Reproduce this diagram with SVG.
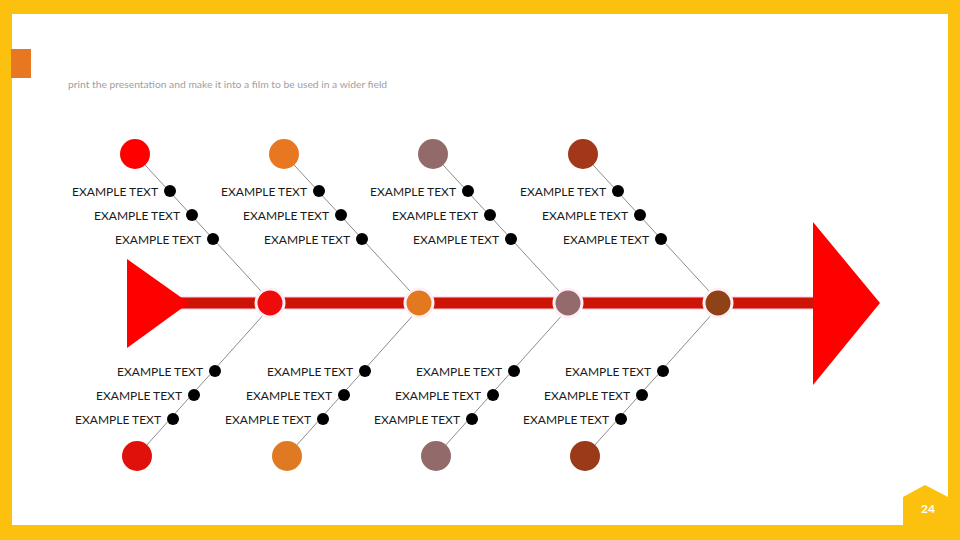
<svg xmlns="http://www.w3.org/2000/svg" width="960" height="540" viewBox="0 0 960 540">
<defs>
<style>
.lbl{font-family:Lato,"Liberation Sans",sans-serif;font-size:12px;fill:#1a1a1a;text-anchor:end;dominant-baseline:central}
.bone{stroke:#8c8c8c;stroke-width:1;fill:none}
.dot{fill:#000}
.node{stroke:#fff0f8;stroke-width:3}
</style>
</defs>
<rect x="0" y="0" width="960" height="540" fill="#FBC10E"/>
<rect x="12" y="14" width="936" height="511" fill="#ffffff"/>
<polygon points="903,497 925,485 948,497 948,525 903,525" fill="#FBC10E"/>
<text x="928" y="513" font-family="Lato,'Liberation Sans',sans-serif" font-size="12" font-weight="bold" fill="#ffffff" text-anchor="middle">24</text>
<rect x="11" y="49" width="20" height="29" fill="#E87722"/>
<text x="68" y="88" font-family="Lato,'Liberation Sans',sans-serif" font-size="10.3" fill="#a0a0a0">print the presentation and make it into a film to be used in a wider field</text>

<g id="connectors">
<line class="bone" x1="135" y1="154" x2="272" y2="303"/>
<line class="bone" x1="284" y1="154" x2="421" y2="303"/>
<line class="bone" x1="433" y1="154" x2="570" y2="303"/>
<line class="bone" x1="583" y1="154" x2="720" y2="303"/>
<line class="bone" x1="274" y1="303" x2="137" y2="456"/>
<line class="bone" x1="424" y1="303" x2="287" y2="456"/>
<line class="bone" x1="573" y1="303" x2="436" y2="456"/>
<line class="bone" x1="722" y1="303" x2="585" y2="456"/>
</g>

<g id="spine">
<rect x="180" y="297" width="640" height="12" fill="#CC1505" stroke="#ffc8e8" stroke-width="1"/>
<polygon points="127,259 127,348 189,303" fill="#FF0000"/>
<polygon points="813,222 813,385 880,303" fill="#FF0000"/>
</g>

<g id="spine-nodes">
<circle class="node" cx="270" cy="303" r="14" fill="#F00A0A"/>
<circle class="node" cx="419" cy="303" r="14" fill="#E2791F"/>
<circle class="node" cx="568" cy="303" r="14" fill="#946B6B"/>
<circle class="node" cx="718" cy="303" r="14" fill="#8E4216"/>
</g>

<g id="top-heads">
<circle cx="135" cy="154" r="15" fill="#FF0000"/>
<circle cx="284" cy="154" r="15" fill="#E87722"/>
<circle cx="433" cy="154" r="15" fill="#936A6A"/>
<circle cx="583" cy="154" r="15" fill="#A2371A"/>
</g>

<g id="bottom-heads">
<circle cx="137" cy="456" r="15" fill="#E0100A"/>
<circle cx="287" cy="456" r="15" fill="#E07A22"/>
<circle cx="436" cy="456" r="15" fill="#936A6A"/>
<circle cx="585" cy="456" r="15" fill="#9A3A18"/>
</g>

<g id="top-col1">
<circle class="dot" cx="170" cy="191" r="6"/><text class="lbl" x="158" y="191">EXAMPLE TEXT</text>
<circle class="dot" cx="192" cy="215" r="6"/><text class="lbl" x="180" y="215">EXAMPLE TEXT</text>
<circle class="dot" cx="213" cy="239" r="6"/><text class="lbl" x="201" y="239">EXAMPLE TEXT</text>
</g>
<g id="top-col2">
<circle class="dot" cx="319" cy="191" r="6"/><text class="lbl" x="307" y="191">EXAMPLE TEXT</text>
<circle class="dot" cx="341" cy="215" r="6"/><text class="lbl" x="329" y="215">EXAMPLE TEXT</text>
<circle class="dot" cx="362" cy="239" r="6"/><text class="lbl" x="350" y="239">EXAMPLE TEXT</text>
</g>
<g id="top-col3">
<circle class="dot" cx="468" cy="191" r="6"/><text class="lbl" x="456" y="191">EXAMPLE TEXT</text>
<circle class="dot" cx="490" cy="215" r="6"/><text class="lbl" x="478" y="215">EXAMPLE TEXT</text>
<circle class="dot" cx="511" cy="239" r="6"/><text class="lbl" x="499" y="239">EXAMPLE TEXT</text>
</g>
<g id="top-col4">
<circle class="dot" cx="618" cy="191" r="6"/><text class="lbl" x="606" y="191">EXAMPLE TEXT</text>
<circle class="dot" cx="640" cy="215" r="6"/><text class="lbl" x="628" y="215">EXAMPLE TEXT</text>
<circle class="dot" cx="661" cy="239" r="6"/><text class="lbl" x="649" y="239">EXAMPLE TEXT</text>
</g>

<g id="bottom-col1">
<circle class="dot" cx="215" cy="371" r="6"/><text class="lbl" x="203" y="371">EXAMPLE TEXT</text>
<circle class="dot" cx="194" cy="395" r="6"/><text class="lbl" x="182" y="395">EXAMPLE TEXT</text>
<circle class="dot" cx="173" cy="419" r="6"/><text class="lbl" x="161" y="419">EXAMPLE TEXT</text>
</g>
<g id="bottom-col2">
<circle class="dot" cx="365" cy="371" r="6"/><text class="lbl" x="353" y="371">EXAMPLE TEXT</text>
<circle class="dot" cx="344" cy="395" r="6"/><text class="lbl" x="332" y="395">EXAMPLE TEXT</text>
<circle class="dot" cx="323" cy="419" r="6"/><text class="lbl" x="311" y="419">EXAMPLE TEXT</text>
</g>
<g id="bottom-col3">
<circle class="dot" cx="514" cy="371" r="6"/><text class="lbl" x="502" y="371">EXAMPLE TEXT</text>
<circle class="dot" cx="493" cy="395" r="6"/><text class="lbl" x="481" y="395">EXAMPLE TEXT</text>
<circle class="dot" cx="472" cy="419" r="6"/><text class="lbl" x="460" y="419">EXAMPLE TEXT</text>
</g>
<g id="bottom-col4">
<circle class="dot" cx="663" cy="371" r="6"/><text class="lbl" x="651" y="371">EXAMPLE TEXT</text>
<circle class="dot" cx="642" cy="395" r="6"/><text class="lbl" x="630" y="395">EXAMPLE TEXT</text>
<circle class="dot" cx="621" cy="419" r="6"/><text class="lbl" x="609" y="419">EXAMPLE TEXT</text>
</g>
</svg>
